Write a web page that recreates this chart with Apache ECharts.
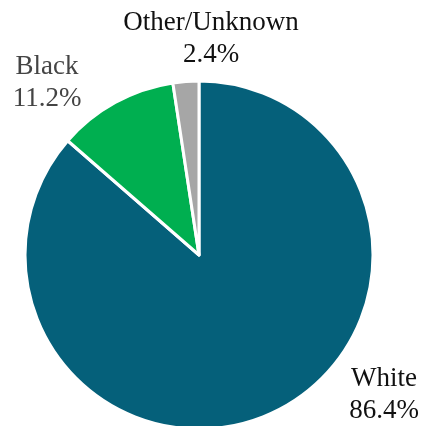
<!DOCTYPE html>
<html><head><meta charset="utf-8">
<script src="https://cdn.jsdelivr.net/npm/echarts@6/dist/echarts.min.js"></script>
<style>html,body{margin:0;padding:0;background:#fff}#c{width:423px;height:426px}</style>
</head><body><div id="c"></div>
<script>
const categories = ['White', 'Black', 'Other/Unknown'];
const values = [86.4, 11.2, 2.4];
const colors = ['#05607A', '#00AF50', '#A6A6A6'];
const labelColors = ['#111111', '#444444', '#111111'];
const labelPos = [[384, 395], [47, 83], [211, 39]];

const chart = echarts.init(document.getElementById('c'));
chart.setOption({
  animation: false,
  series: [{
    type: 'pie',
    center: [199, 255],
    radius: [0, 174],
    startAngle: 90,
    clockwise: true,
    avoidLabelOverlap: false,
    data: categories.map((c, i) => ({
      name: c, value: values[i],
      itemStyle: { color: colors[i] },
      label: { color: labelColors[i] }
    })),
    itemStyle: { borderColor: '#fff', borderWidth: 3 },
    label: {
      show: true,
      position: 'outside',
      alignTo: 'none',
      overflow: 'none',
      bleedMargin: 0,
      formatter: p => p.name + '\n' + p.value.toFixed(1) + '%',
      fontFamily: 'Liberation Serif',
      fontSize: 27,
      lineHeight: 32,
      align: 'center'
    },
    labelLine: { show: false },
    labelLayout: p => ({
      x: labelPos[p.dataIndex][0],
      y: labelPos[p.dataIndex][1],
      align: 'center',
      verticalAlign: 'middle',
      hideOverlap: false,
      moveOverlap: null
    })
  }]
});
</script></body></html>
